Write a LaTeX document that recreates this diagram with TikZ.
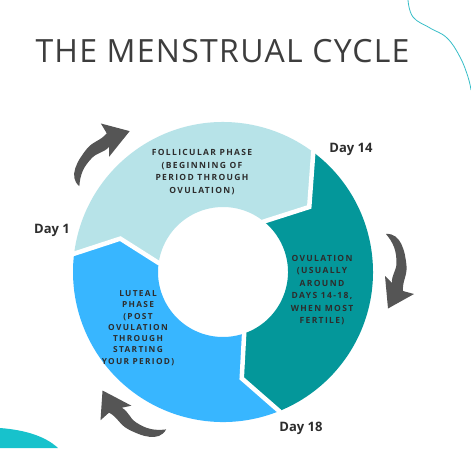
\documentclass[tikz,border=0pt]{standalone}
\usepackage{fontspec}
\setmainfont{Open Sans}
\newfontfamily\lblfont[LetterSpace=16]{Open Sans}
\newfontfamily\titlefont[LetterSpace=4]{Open Sans}
\definecolor{follic}{RGB}{183,227,232}
\definecolor{ovul}{RGB}{4,151,154}
\definecolor{lute}{RGB}{56,182,255}
\definecolor{arrowgray}{RGB}{85,85,85}
\definecolor{txt}{RGB}{45,45,45}
\definecolor{deco}{RGB}{56,190,200}
\definecolor{decofill}{RGB}{23,194,204}
\tikzset{
  seglabel/.style={text=txt, font=\lblfont\bfseries\fontsize{8.5}{12.5}\selectfont, align=center, inner sep=0pt},
  daylabel/.style={text=txt, font=\bfseries\fontsize{13}{15}\selectfont, inner sep=0pt},
  gapline/.style={white, line width=4.5pt, line join=miter, line cap=butt},
}
\begin{document}
\begin{tikzpicture}[x=1pt,y=1pt]
\useasboundingbox (0,0) rectangle (471,448);
\fill[white] (0,0) rectangle (471,448);
% decorations
\draw[deco, line width=0.8pt] plot[smooth, tension=0.7] coordinates {(408,448) (413,431) (430,420) (447,410) (460,391) (468,371) (471,358)};
\fill[decofill] (0,0) -- (0,20) .. controls (25,18) and (45,12) .. (58,0) -- cycle;
% title
\node[text=black!76, font=\titlefont\fontsize{32}{36}\selectfont, inner sep=0pt] (title) at (222.5,396.5) {THE MENSTRUAL CYCLE};
% ring
\begin{scope}[shift={(223,176)}]
  \def\R{150}\def\r{65}\def\m{108}
  \fill[follic] (173:\R) arc[start angle=173, end angle=53, radius=\R] -- (37:\m) -- (51:\r) arc[start angle=51, end angle=172, radius=\r] -- (162:\m) -- cycle;
  \fill[ovul] (53:\R) arc[start angle=53, end angle=-68, radius=\R] -- (-80:\m) -- (-71:\r) arc[start angle=-71, end angle=51, radius=\r] -- (37:\m) -- cycle;
  \fill[lute] (-68:\R) arc[start angle=-68, end angle=-187, radius=\R] -- (-198:\m) -- (-188:\r) arc[start angle=-188, end angle=-71, radius=\r] -- (-80:\m) -- cycle;
  \draw[gapline] (53.3:156) -- (53:\R) -- (37:\m) -- (51:\r) -- (51:58);
  \draw[gapline] (-68.3:156) -- (-68:\R) -- (-80:\m) -- (-71:\r) -- (-71:58);
  \draw[gapline] (173.3:156) -- (173:\R) -- (162:\m) -- (172:\r) -- (172:58);
\end{scope}
% labels
\node[seglabel] (follab) at (202,276) {FOLLICULAR PHASE\\(BEGINNING OF\\PERIOD THROUGH\\OVULATION)};
\node[seglabel] (ovlab) at (322,158) {OVULATION\\(USUALLY\\AROUND\\DAYS 14-18,\\WHEN MOST\\FERTILE)};
\node[seglabel, font=\lblfont\bfseries\fontsize{8.3}{11.3}\selectfont] (lutlab) at (138,120) {LUTEAL\\PHASE\\(POST\\OVULATION\\THROUGH\\STARTING\\YOUR PERIOD)};
\node[daylabel] (d14) at (351,299) {Day 14};
\node[daylabel] (d1) at (52,218) {Day 1};
\node[daylabel] (d18) at (301,20) {Day 18};
% arrows
\def\arrowshape{(386,214) to[out=5,in=95] (406.5,182) to[out=-85,in=95] (403,157) -- (414,154) -- (388,139.5) -- (385,172) -- (392,165) to[out=95,in=-90] (396.5,185) to[out=90,in=-50] (386,214) -- cycle}
\fill[arrowgray] \arrowshape;
\begin{scope}[rotate around={136:(223,176)}]
  \fill[arrowgray] \arrowshape;
\end{scope}
\begin{scope}[rotate around={-123:(223,176)}]
  \fill[arrowgray] \arrowshape;
\end{scope}
\end{tikzpicture}
\end{document}
